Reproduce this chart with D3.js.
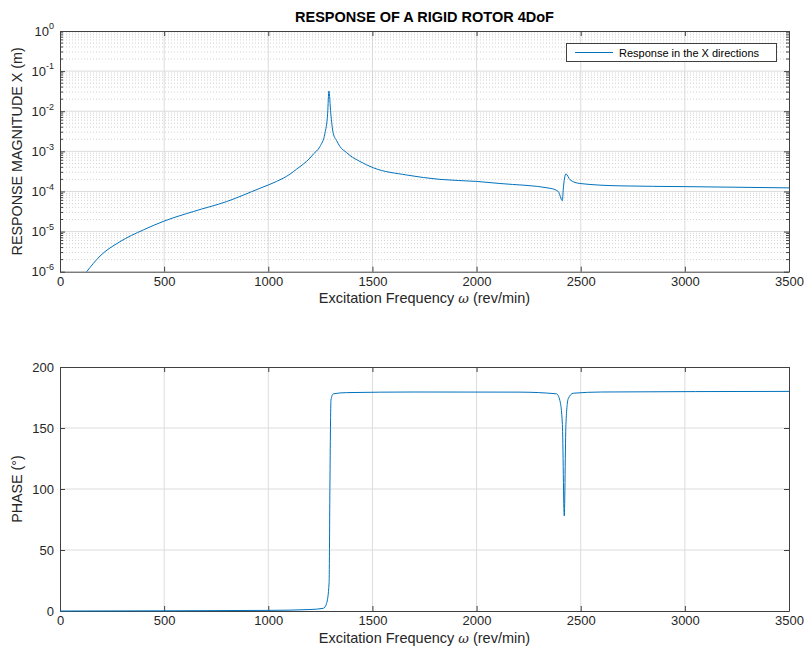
<!DOCTYPE html>
<html>
<head>
<meta charset="utf-8">
<script src="https://cdn.jsdelivr.net/npm/d3@7"></script>
<style>
  html, body { margin: 0; padding: 0; background: #fff; }
  svg { display: block; font-family: "Liberation Sans", Arial, Helvetica, sans-serif; }
</style>
</head>
<body>
<svg id="chart" width="804" height="648"></svg>
<script>
// Frequency response of the rigid rotor: magnitude (m) and phase (deg)
const magFreq = [128, 192, 288, 400, 504, 640, 800, 960, 1000, 1040, 1104, 1136, 1200, 1216, 1248, 1272, 1285, 1291,
                 1300, 1312, 1328, 1344, 1376, 1392, 1440, 1504, 1665, 1824, 2000, 2112, 2353, 2392, 2412, 2416,
                 2429, 2449, 2496, 2689, 3000, 3500];
const magValue = [1.0e-6, 2.45e-6, 5.6e-6, 1.1e-5, 1.86e-5, 3.16e-5, 5.6e-5, 1.2e-4, 1.45e-4, 1.78e-4, 2.7e-4,
                  3.6e-4, 6.8e-4, 8.5e-4, 1.32e-3, 2.8e-3, 8.9e-3, 3.2e-2,
                  8.9e-3, 2.8e-3, 1.85e-3, 1.32e-3, 9.3e-4, 7.9e-4, 5.6e-4, 3.9e-4, 2.57e-4, 2.0e-4, 1.78e-4, 1.58e-4,
                  1.2e-4, 1.0e-4, 5.9e-5, 1.1e-4, 2.75e-4, 1.95e-4, 1.58e-4, 1.38e-4, 1.32e-4, 1.23e-4];

const phaseFreq = [0, 1000, 1200, 1264, 1280, 1292, 1296, 1301, 1312, 1376, 1700, 2208, 2384, 2400,
                   2412, 2421, 2429, 2440, 2464, 2600, 3500];
const phaseValue = [0, 0.5, 1.2, 2.2, 6.3, 23, 105, 173, 178, 179, 179.5, 179.4, 178, 172.5,
                    153, 78, 153, 174, 178.5, 179.5, 180];

const freqTicks = [0, 500, 1000, 1500, 2000, 2500, 3000, 3500];
const magTickExponents = [-6, -5, -4, -3, -2, -1, 0];
const phaseTicks = [0, 50, 100, 150, 200];

const titleText = "RESPONSE OF A RIGID ROTOR 4DoF";
const magLabel = "RESPONSE MAGNITUDE X (m)";
const phaseLabel = "PHASE (°)";
const legendText = "Response in the X directions";

const svg = d3.select("#chart");
const axisColor = "#404040";
const gridColor = "#dcdcdc";
const lineColor = "#0072BD";

const left = 60, right = 789;
const top1 = { y0: 31, y1: 271.7 };
const bot1 = { y0: 367, y1: 611 };

const x = d3.scaleLinear().domain([0, 3500]).range([left, right]);
const yMag = d3.scaleLog().domain([1e-6, 1]).range([top1.y1, top1.y0]);
const yPh = d3.scaleLinear().domain([0, 200]).range([bot1.y1, bot1.y0]);

const magData = magFreq.map((f, i) => ({ f, v: magValue[i] }));
const phaseData = phaseFreq.map((f, i) => ({ f, v: phaseValue[i] }));

function styleAxis(g) {
  g.selectAll("path.domain").attr("stroke", axisColor).attr("stroke-width", 1);
  g.selectAll(".tick line").attr("stroke", axisColor).attr("stroke-width", 1);
  g.selectAll(".tick text").attr("fill", "#262626").attr("font-size", 13)
    .attr("font-family", "Liberation Sans, Arial, sans-serif");
}

function drawPanel(yScale, yr, yTicks, isLog, clipId) {
  const g = svg.append("g");

  // vertical grid
  g.append("g").selectAll("line").data(freqTicks.slice(1, -1)).join("line")
    .attr("x1", d => x(d)).attr("x2", d => x(d))
    .attr("y1", yr.y0).attr("y2", yr.y1)
    .attr("stroke", gridColor).attr("stroke-width", 1);

  if (isLog) {
    // minor dotted grid inside each decade
    const minors = [];
    for (let e = -6; e < 0; e++) for (let m = 2; m <= 9; m++) minors.push(m * Math.pow(10, e));
    g.append("g").selectAll("line").data(minors).join("line")
      .attr("x1", left).attr("x2", right)
      .attr("y1", d => yScale(d)).attr("y2", d => yScale(d))
      .attr("stroke", "#c8c8c8").attr("stroke-width", 0.8)
      .attr("stroke-dasharray", "1,2");
    // minor ticks on left and right edges
    g.append("g").selectAll("line").data(minors).join("line")
      .attr("x1", left).attr("x2", left + 3)
      .attr("y1", d => yScale(d)).attr("y2", d => yScale(d))
      .attr("stroke", axisColor);
    g.append("g").selectAll("line").data(minors).join("line")
      .attr("x1", right).attr("x2", right - 3)
      .attr("y1", d => yScale(d)).attr("y2", d => yScale(d))
      .attr("stroke", axisColor);
  }

  // horizontal major grid
  g.append("g").selectAll("line").data(yTicks.slice(1, -1)).join("line")
    .attr("x1", left).attr("x2", right)
    .attr("y1", d => yScale(d)).attr("y2", d => yScale(d))
    .attr("stroke", gridColor).attr("stroke-width", 1);

  // axes (inward ticks, box on)
  const xb = g.append("g").attr("transform", `translate(0,${yr.y1})`)
    .call(d3.axisBottom(x).tickValues(freqTicks).tickFormat(d3.format("d"))
      .tickSize(-5).tickSizeOuter(0).tickPadding(5));
  styleAxis(xb);
  const xt = g.append("g").attr("transform", `translate(0,${yr.y0})`)
    .call(d3.axisTop(x).tickValues(freqTicks).tickFormat("").tickSize(-5).tickSizeOuter(0));
  styleAxis(xt);

  const yl = g.append("g").attr("transform", `translate(${left},0)`)
    .call(d3.axisLeft(yScale).tickValues(yTicks).tickFormat(isLog ? "" : d3.format("d"))
      .tickSize(-5).tickSizeOuter(0).tickPadding(6));
  styleAxis(yl);
  const yrA = g.append("g").attr("transform", `translate(${right},0)`)
    .call(d3.axisRight(yScale).tickValues(yTicks).tickFormat("").tickSize(-5).tickSizeOuter(0));
  styleAxis(yrA);

  if (isLog) {
    yl.selectAll(".tick text").each(function (d) {
      const t = d3.select(this);
      t.text(null);
      t.append("tspan").text("10");
      t.append("tspan").attr("font-size", 9).attr("dy", "-0.7em")
        .text(String(Math.round(Math.log10(d))));
    });
  }

  // clip region for the data line
  svg.append("clipPath").attr("id", clipId).append("rect")
    .attr("x", left).attr("y", yr.y0).attr("width", right - left).attr("height", yr.y1 - yr.y0 + 1);

  return g;
}

// ---- Magnitude panel ----
const magTicks = magTickExponents.map(e => Math.pow(10, e));
drawPanel(yMag, top1, magTicks, true, "clipMag");
svg.append("path").datum(magData)
  .attr("clip-path", "url(#clipMag)")
  .attr("fill", "none").attr("stroke", lineColor).attr("stroke-width", 1)
  .attr("d", d3.line().x(d => x(d.f)).y(d => yMag(d.v)).curve(d3.curveMonotoneX));

// ---- Phase panel ----
drawPanel(yPh, bot1, phaseTicks, false, "clipPh");
svg.append("path").datum(phaseData)
  .attr("clip-path", "url(#clipPh)")
  .attr("fill", "none").attr("stroke", lineColor).attr("stroke-width", 1)
  .attr("d", d3.line().x(d => x(d.f)).y(d => yPh(d.v)).curve(d3.curveMonotoneX));

// ---- Titles and labels ----
const cx = (left + right) / 2;
svg.append("text").attr("x", cx).attr("y", 22).attr("text-anchor", "middle")
  .attr("font-size", 14.5).attr("font-weight", "bold").attr("fill", "#000").text(titleText);

function xLabel(yPos) {
  const t = svg.append("text").attr("x", cx).attr("y", yPos).attr("text-anchor", "middle")
    .attr("font-size", 14.5).attr("fill", "#262626");
  t.append("tspan").text("Excitation Frequency ");
  t.append("tspan").attr("font-style", "italic").attr("font-family", "DejaVu Serif, serif").attr("font-size", 13).text("ω");
  t.append("tspan").text(" (rev/min)");
}
xLabel(303);
xLabel(643);

svg.append("text").attr("transform", `translate(22,${(top1.y0 + top1.y1) / 2}) rotate(-90)`)
  .attr("text-anchor", "middle").attr("font-size", 14.3).attr("fill", "#262626").text(magLabel);
svg.append("text").attr("transform", `translate(22,${(bot1.y0 + bot1.y1) / 2}) rotate(-90)`)
  .attr("text-anchor", "middle").attr("font-size", 14.3).attr("fill", "#262626").text(phaseLabel);

// ---- Legend ----
const lg = svg.append("g");
lg.append("rect").attr("x", 566.5).attr("y", 43.5).attr("width", 210).attr("height", 18)
  .attr("fill", "#fff").attr("stroke", axisColor).attr("stroke-width", 1);
lg.append("line").attr("x1", 575).attr("x2", 613).attr("y1", 52.5).attr("y2", 52.5)
  .attr("stroke", lineColor).attr("stroke-width", 1);
lg.append("text").attr("x", 619).attr("y", 56.5).attr("font-size", 11).attr("fill", "#000").text(legendText);
</script>
</body>
</html>
